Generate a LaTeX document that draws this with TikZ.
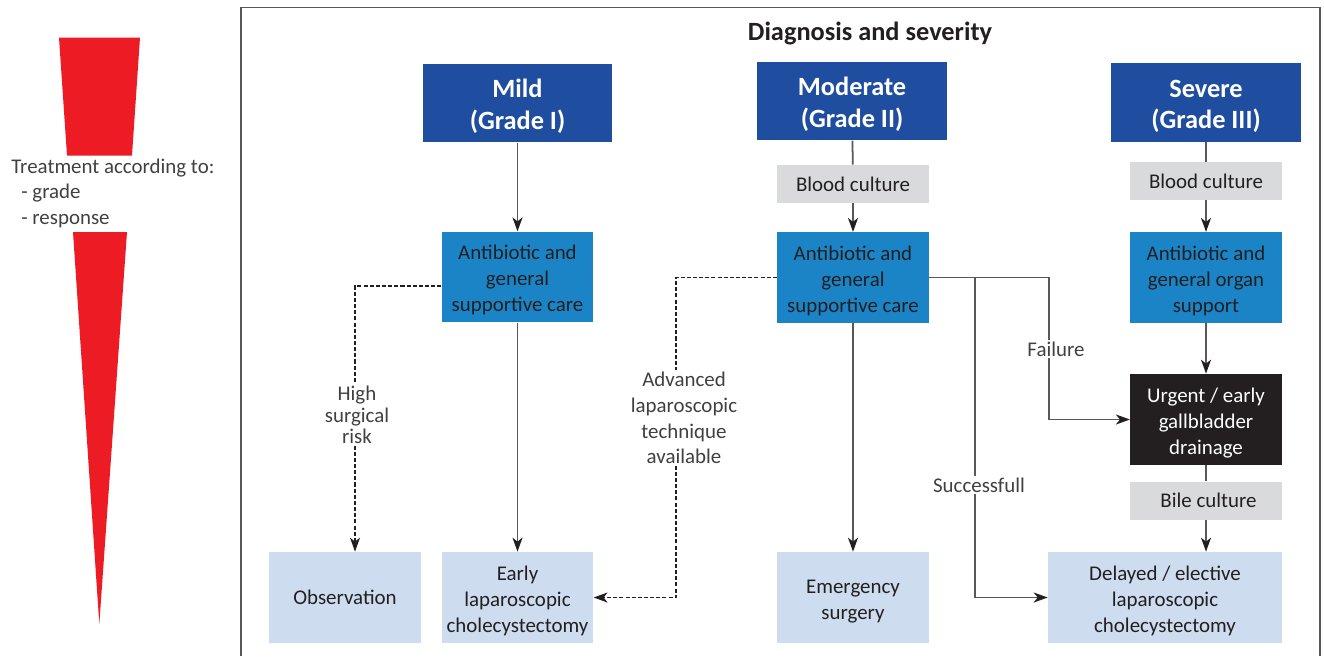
\documentclass[tikz,border=0pt]{standalone}
\usepackage{fontspec}
\setmainfont{Carlito}
\usetikzlibrary{arrows.meta}

\definecolor{gradeblue}{RGB}{31,78,160}
\definecolor{careblue}{RGB}{27,132,198}
\definecolor{outblue}{RGB}{205,220,238}
\definecolor{culturegray}{RGB}{217,218,220}
\definecolor{drainblack}{RGB}{35,31,32}
\definecolor{barred}{RGB}{237,28,36}
\definecolor{linegray}{RGB}{88,88,88}
\definecolor{inkgray}{RGB}{35,31,32}
\definecolor{notegray}{RGB}{64,64,64}

\tikzset{
  box/.style={rectangle, inner sep=0pt, align=center, text=inkgray,
    font=\fontsize{11.9}{14.9}\selectfont},
  gradebox/.style={box, fill=gradeblue, text=white, minimum width=3.8cm,
    minimum height=1.57cm, font=\fontsize{15}{18.2}\selectfont\bfseries},
  carebox/.style={box, fill=careblue, minimum width=3.03cm, minimum height=1.81cm},
  culturebox/.style={box, fill=culturegray, minimum width=3.03cm, minimum height=0.76cm},
  drainbox/.style={box, fill=drainblack, text=white, minimum width=3.03cm, minimum height=1.82cm},
  outbox/.style={box, fill=outblue, minimum width=3.03cm, minimum height=1.82cm},
  branchtext/.style={fill=white, inner sep=1pt, align=center, text=notegray,
    font=\fontsize{11.9}{14.7}\selectfont},
  link/.style={draw=linegray, line width=1pt},
  arr/.style={link, -{Stealth[length=0.28cm, width=0.2cm, inset=0.08cm, color=inkgray]}},
  dasharr/.style={draw=inkgray, line width=0.7pt, dash pattern=on 2.3pt off 1.2pt,
    -{Stealth[length=0.28cm, width=0.2cm, inset=0.08cm, color=inkgray]}}
}

\begin{document}
\begin{tikzpicture}[x=0.02cm, y=-0.02cm]
    \useasboundingbox (0,0) rectangle (1324,656);

    % Red wedge with the treatment note
    \fill[barred] (59,37.5) -- (140,37.5) -- (132,155.5) -- (67,155.5) -- cycle;
    \fill[barred] (73,232) -- (127,232) -- (99.3,624) -- cycle;
    \node[anchor=west, inner sep=0pt, align=left, text=notegray, font=\fontsize{11.9}{14.5}\selectfont]
        (treatnote) at (11,193)
        {Treatment according to:\\\hspace*{0.2cm}- grade\\\hspace*{0.2cm}- response};

    % Frame
    \draw[draw=linegray, line width=1pt] (241,656) -- (241,7.5) -- (1320,7.5) -- (1320,656);
    \node[font=\fontsize{15}{18}\selectfont\bfseries, text=inkgray] (title) at (870,33)
        {Diagnosis and severity};

    % Grade boxes
    \node[gradebox] (mild) at (517.5,103) {\rule{0pt}{0.5cm}Mild\\(Grade I)};
    \node[gradebox] (moderate) at (852,101) {\rule{0pt}{0.5cm}Moderate\\(Grade II)};
    \node[gradebox] (severe) at (1206,102.5) {\rule{0pt}{0.5cm}Severe\\(Grade III)};

    % Cultures and care
    \node[culturebox] (blood2) at (853,184) {Blood culture};
    \node[culturebox] (blood3) at (1206,181) {Blood culture};
    \node[carebox] (care1) at (517.5,277) {\rule{0pt}{0.42cm}Antibiotic and\\general\\supportive care};
    \node[carebox] (care2) at (853,277.5) {\rule{0pt}{0.42cm}Antibiotic and\\general\\supportive care};
    \node[carebox] (care3) at (1206,277.5) {\rule{0pt}{0.42cm}Antibiotic and\\general organ\\support};
    \node[drainbox] (drain) at (1206,419.5) {\rule{0pt}{0.42cm}Urgent / early\\gallbladder\\drainage};
    \node[culturebox] (bile) at (1206,500.5) {\hspace*{0.1cm}Bile culture};

    % Outcomes
    \node[outbox] (observe) at (345,597.5) {Observation};
    \node[outbox] (early) at (517.5,597.5) {\rule{0pt}{0.42cm}Early\\laparoscopic\\cholecystectomy};
    \node[outbox] (emergency) at (853,597.5) {\rule{0pt}{0.42cm}Emergency\\surgery};
    \node[outbox, minimum width=4.68cm] (delayed) at (1165,597.5)
        {\rule{0pt}{0.42cm}Delayed / elective\\laparoscopic\\cholecystectomy};

    % Bend points
    \coordinate (advx) at (676,0);
    \coordinate (failx) at (1049,0);
    \coordinate (succx) at (975,0);

    % Mild
    \draw[arr] (mild) -- (care1);
    \draw[arr] (care1) -- (early);
    \draw[dasharr] ([yshift=-0.18cm]care1.west) -| ([xshift=0.2cm]observe.north);
    \node[branchtext, font=\fontsize{11.9}{12.4}\selectfont] (highrisk) at (357,415)
        {High\\surgical\\risk};

    % Moderate
    \draw[link] (moderate) -- (blood2);
    \draw[arr] (blood2) -- (care2);
    \draw[arr] (care2) -- (emergency);
    \draw[dasharr] (care2.west) -- (care2.west -| advx) |- (early.east);
    \node[branchtext] (advanced) at (684,418)
        {Advanced\\laparoscopic\\technique\\available};
    \draw[arr] (care2.east) -- (care2.east -| failx) |- (drain.west);
    \draw[arr] (care2.east -| succx) |- (delayed.west);
    \node[branchtext] (failure) at (1056,349) {Failure};
    \node[branchtext] (success) at (979,485) {Successfull};

    % Severe
    \draw[link] (severe) -- (blood3);
    \draw[arr] (blood3) -- (care3);
    \draw[arr] (care3) -- (drain);
    \draw[link] (drain) -- (bile);
    \draw[arr] (bile) -- (bile |- delayed.north);

\end{tikzpicture}
\end{document}
